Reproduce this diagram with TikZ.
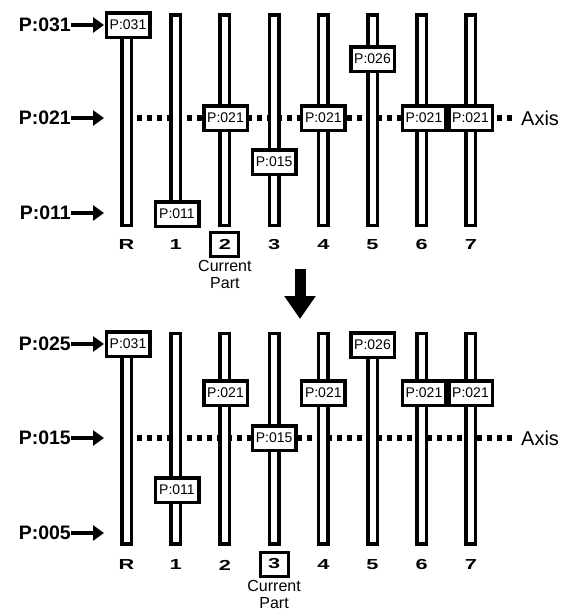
\documentclass[tikz,border=0pt]{standalone}
\usepackage{fontspec}
\setmainfont{Liberation Sans}
\usetikzlibrary{arrows.meta,positioning}
\tikzset{
  track/.style={
    draw,
    line width=3.5pt,
    fill=white,
    inner sep=0pt,
    minimum width=9.5pt,
    minimum height=210.5pt
  },
  knob/.style={
    draw,
    line width=3.5pt,
    fill=white,
    inner sep=0pt,
    minimum width=43.5pt,
    minimum height=24.5pt,
    font=\fontsize{14}{14}\selectfont
  },
  lvl/.style={anchor=east, inner sep=0pt, font=\fontsize{19.5}{19.5}\selectfont\bfseries},
  lvlarrow/.style={-{Triangle[length=11pt,width=15pt]}, line width=4pt},
  chlabel/.style={inner sep=0pt, font=\fontsize{14.5}{14.5}\selectfont\bfseries},
  curbox/.style={chlabel, draw, line width=3pt, minimum width=28pt, minimum height=24pt},
  curtext/.style={inner sep=0pt, align=center, font=\fontsize{16}{17}\selectfont},
  axisline/.style={line width=5.5pt, dash pattern=on 5pt off 5pt},
  axislabel/.style={anchor=west, inner sep=0pt, font=\fontsize{20}{20}\selectfont},
  bigarrow/.style={-{Triangle[length=23pt,width=30pt]}, line width=11pt}
}
\newcommand{\seg}[1]{\scalebox{1.5}[1]{#1}}

\begin{document}
\begin{tikzpicture}[x=1pt, y=-1pt]
\useasboundingbox (0,0) rectangle (565,613);

% upper panel: before
\node[axislabel] (axisA) at (521,118) {Axis};
\coordinate (axA) at (126.5,118);
\coordinate (axAe) at (512,118);
\draw[axisline] (axA) -- (axAe);

\node[track] (trkR) at (126.5,120) {};
\node[track] (trk1) at (175.7,120) {};
\node[track] (trk2) at (224.9,120) {};
\node[track] (trk3) at (274.1,120) {};
\node[track] (trk4) at (323.3,120) {};
\node[track] (trk5) at (372.5,120) {};
\node[track] (trk6) at (421.7,120) {};
\node[track] (trk7) at (470.9,120) {};

\node[knob] (knobR) at (128,25) {P:031};
\node[knob] (knob1) at (177,214) {P:011};
\node[knob] (knob2) at (225.5,118) {P:021};
\node[knob] (knob3) at (274.1,162) {P:015};
\node[knob] (knob4) at (323.3,118) {P:021};
\node[knob] (knob5) at (372.5,59) {P:026};
\node[knob] (knob6) at (424,118) {P:021};
\node[knob] (knob7) at (470.5,118) {P:021};

\node[lvl] (hiA) at (71,25) {P:031};
\node[lvl] (midA) at (71,118) {P:021};
\node[lvl] (loA) at (71,213) {P:011};
\coordinate (hiAe) at (104,25);
\coordinate (midAe) at (104,118);
\coordinate (loAe) at (104,213);
\draw[lvlarrow] (hiA) -- (hiAe);
\draw[lvlarrow] (midA) -- (midAe);
\draw[lvlarrow] (loA) -- (loAe);

\node[chlabel] (chR) at (126.5,245) {\seg{R}};
\node[chlabel] (ch1) at (175.7,245) {\seg{1}};
\node[curbox] (ch2) at (224.9,244) {\seg{2}};
\node[chlabel] (ch3) at (274.1,245) {\seg{3}};
\node[chlabel] (ch4) at (323.3,245) {\seg{4}};
\node[chlabel] (ch5) at (372.5,245) {\seg{5}};
\node[chlabel] (ch6) at (421.7,245) {\seg{6}};
\node[chlabel] (ch7) at (470.9,245) {\seg{7}};
\node[curtext, below=3pt of ch2] (curA) {Current\\Part};

% the move
\coordinate (moveS) at (300,269);
\coordinate (moveE) at (300,319);
\draw[bigarrow] (moveS) -- (moveE);

% lower panel: after
\node[axislabel] (axisB) at (521,438) {Axis};
\coordinate (axB) at (126.5,438);
\coordinate (axBe) at (512,438);
\draw[axisline] (axB) -- (axBe);

\node[track] (btrkR) at (126.5,438.5) {};
\node[track] (btrk1) at (175.7,438.5) {};
\node[track] (btrk2) at (224.9,438.5) {};
\node[track] (btrk3) at (274.1,438.5) {};
\node[track] (btrk4) at (323.3,438.5) {};
\node[track] (btrk5) at (372.5,438.5) {};
\node[track] (btrk6) at (421.7,438.5) {};
\node[track] (btrk7) at (470.9,438.5) {};

\node[knob] (bknobR) at (128,344) {P:031};
\node[knob] (bknob1) at (177,490) {P:011};
\node[knob] (bknob2) at (225.5,393) {P:021};
\node[knob] (bknob3) at (274.1,438) {P:015};
\node[knob] (bknob4) at (323.3,393) {P:021};
\node[knob] (bknob5) at (372.5,345) {P:026};
\node[knob] (bknob6) at (424,393) {P:021};
\node[knob] (bknob7) at (470.5,393) {P:021};

\node[lvl] (hiB) at (71,344) {P:025};
\node[lvl] (midB) at (71,438) {P:015};
\node[lvl] (loB) at (71,533) {P:005};
\coordinate (hiBe) at (104,344);
\coordinate (midBe) at (104,438);
\coordinate (loBe) at (104,533);
\draw[lvlarrow] (hiB) -- (hiBe);
\draw[lvlarrow] (midB) -- (midBe);
\draw[lvlarrow] (loB) -- (loBe);

\node[chlabel] (bchR) at (126.5,565) {\seg{R}};
\node[chlabel] (bch1) at (175.7,565) {\seg{1}};
\node[chlabel] (bch2) at (224.9,565) {\seg{2}};
\node[curbox] (bch3) at (274.1,564) {\seg{3}};
\node[chlabel] (bch4) at (323.3,565) {\seg{4}};
\node[chlabel] (bch5) at (372.5,565) {\seg{5}};
\node[chlabel] (bch6) at (421.7,565) {\seg{6}};
\node[chlabel] (bch7) at (470.9,565) {\seg{7}};
\node[curtext, below=3pt of bch3] (curB) {Current\\Part};
\end{tikzpicture}
\end{document}
